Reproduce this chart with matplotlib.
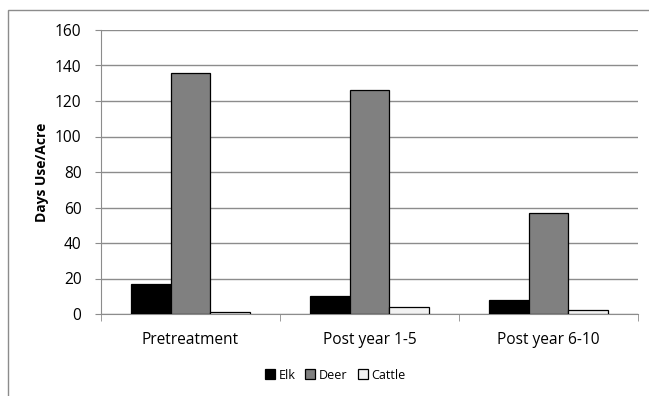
import matplotlib
matplotlib.use("Agg")
import matplotlib.pyplot as plt
from matplotlib.patches import Rectangle
import numpy as np

categories = ["Pretreatment", "Post year 1-5", "Post year 6-10"]
series_names = ["Elk", "Deer", "Cattle"]
elk = [17, 10, 8]
deer = [136, 126, 57]
cattle = [1, 4, 2]
series_values = [elk, deer, cattle]
series_colors = ["#000000", "#808080", "#f2f2f2"]
yticks = [0, 20, 40, 60, 80, 100, 120, 140, 160]

plt.rcParams["font.family"] = ["Open Sans", "DejaVu Sans"]

W, H = 649, 396
fig = plt.figure(figsize=(W / 100, H / 100), dpi=100)

# chart-area border (runs off the right and bottom edges)
fig.patches.append(Rectangle((8 / W, -0.05), 1.1, 1 - 10 / H + 0.05,
                             transform=fig.transFigure, fill=False,
                             edgecolor="#8c8c8c", linewidth=1.0))

ax = fig.add_axes([101 / W, (H - 314) / H, (638 - 101) / W, (314 - 30) / H])

n = len(series_names)
bw = 1 / (n + 1.5)
x = np.arange(len(categories))
for i, (name, vals, col) in enumerate(zip(series_names, series_values, series_colors)):
    ax.bar(x + (i - (n - 1) / 2) * bw, vals, width=bw, color=col,
           edgecolor="#000000", linewidth=0.9, label=name, zorder=3)

ax.set_xlim(-0.5, len(categories) - 0.5)
ax.set_ylim(0, 160)
ax.set_yticks(yticks)
ax.yaxis.grid(True, color="#8c8c8c", linewidth=1.0, zorder=0)
ax.set_axisbelow(True)

ax.set_xticks(x)
ax.set_xticklabels(categories, fontsize=11.2)
ax.set_xticks(np.arange(len(categories) + 1) - 0.5, minor=True)
ax.tick_params(axis="x", which="major", length=0, pad=13)
ax.tick_params(axis="x", which="minor", length=5, color="#8c8c8c", direction="out")
ax.tick_params(axis="y", length=4, color="#8c8c8c", labelsize=11.2, pad=10)

for s in ["top", "right"]:
    ax.spines[s].set_visible(False)
ax.spines["left"].set_color("#8c8c8c")
ax.spines["bottom"].set_color("#8c8c8c")

ax.set_ylabel("Days Use/Acre", fontsize=10, fontweight="bold", labelpad=4)

ax.legend(loc="center", bbox_to_anchor=(0.436, -0.215), ncol=3, frameon=False,
          fontsize=9, handlelength=0.8, handleheight=0.8, handletextpad=0.3,
          columnspacing=0.8)

fig.savefig("out.png", dpi=100)
